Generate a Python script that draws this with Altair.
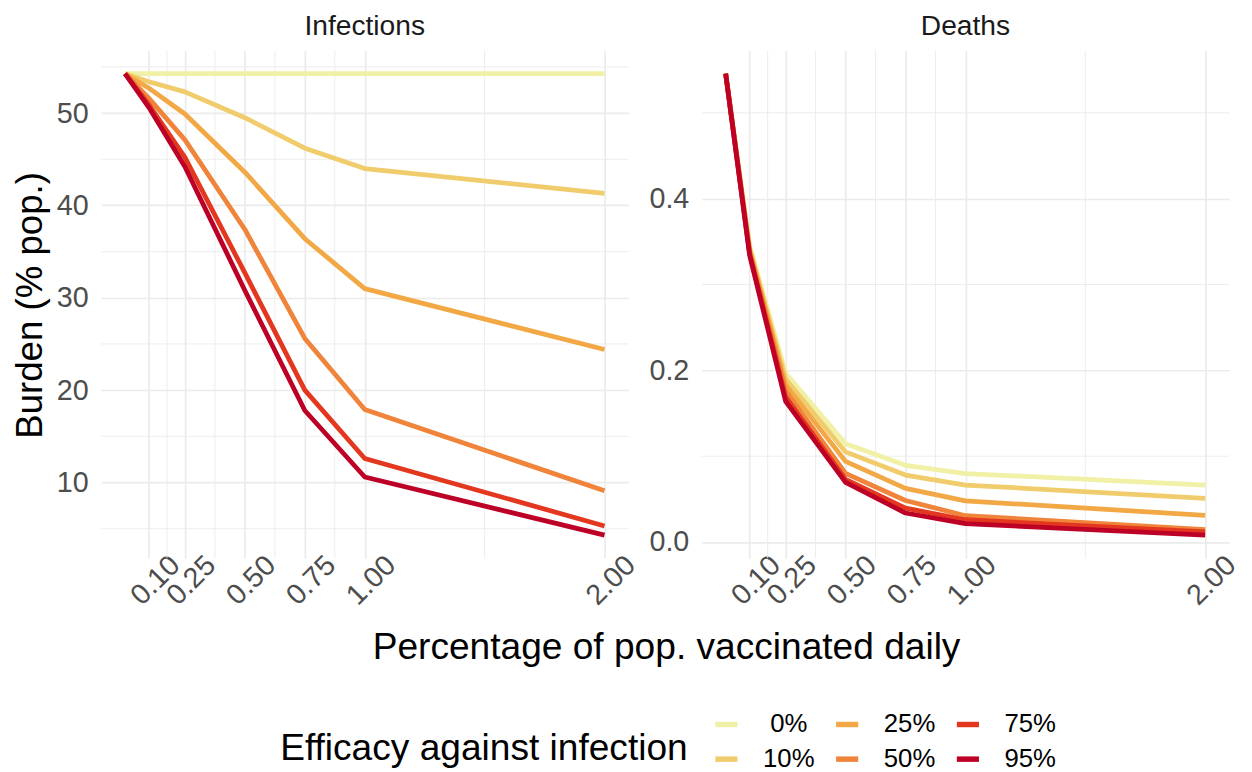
import altair as alt
import pandas as pd

# ---- data ----
x_pct = [0.0, 0.1, 0.25, 0.5, 0.75, 1.0, 2.0]
efficacy_levels = ["0%", "10%", "25%", "50%", "75%", "95%"]
line_colors = ["#f0f0a6", "#f1cc6c", "#f2a845", "#f0843a", "#e4371f", "#bd0026"]

inf_0 = [54.27, 54.27, 54.27, 54.27, 54.27, 54.27, 54.27]
inf_10 = [54.27, 53.4, 52.3, 49.5, 46.2, 44.0, 41.3]
inf_25 = [54.27, 52.7, 49.9, 43.6, 36.4, 31.0, 24.4]
inf_50 = [54.27, 51.6, 47.1, 37.4, 25.6, 17.9, 9.1]
inf_75 = [54.27, 50.9, 45.2, 32.7, 20.0, 12.6, 5.3]
inf_95 = [54.27, 50.6, 44.2, 30.8, 17.8, 10.6, 4.3]

death_0 = [0.5456, 0.345, 0.197, 0.1144, 0.0894, 0.0798, 0.0664]
death_10 = [0.5456, 0.342, 0.190, 0.105, 0.078, 0.0664, 0.051]
death_25 = [0.5456, 0.340, 0.183, 0.094, 0.0626, 0.048, 0.0311]
death_50 = [0.5456, 0.338, 0.176, 0.080, 0.0484, 0.0307, 0.0145]
death_75 = [0.5456, 0.336, 0.169, 0.073, 0.0395, 0.026, 0.0119]
death_95 = [0.5456, 0.334, 0.164, 0.0695, 0.0338, 0.0214, 0.008]

x_breaks = [0.1, 0.25, 0.5, 0.75, 1.0, 2.0]
x_minor = [0.175, 0.375, 0.625, 0.875, 1.5]
inf_breaks = [10, 20, 30, 40, 50]
inf_minor = [5, 15, 25, 35, 45, 55]
death_breaks = [0.0, 0.2, 0.4]
death_minor = [0.1, 0.3, 0.5]

# legend shows entries column-wise (3 columns, 2 rows)
legend_order = ["0%", "25%", "75%", "10%", "50%", "95%"]
color_of = dict(zip(efficacy_levels, line_colors))
legend_colors = [color_of[k] for k in legend_order]


def long_df(series):
    rows = []
    for lvl, ys in zip(efficacy_levels, series):
        for x, y in zip(x_pct, ys):
            rows.append({"pct": x, "burden": y, "eff": lvl})
    return pd.DataFrame(rows)


inf_df = long_df([inf_0, inf_10, inf_25, inf_50, inf_75, inf_95])
death_df = long_df([death_0, death_10, death_25, death_50, death_75, death_95])

GRID = "#ebebeb"
FONT = "Liberation Sans"

color_enc = alt.Color(
    "eff:N",
    scale=alt.Scale(domain=legend_order, range=legend_colors),
    legend=alt.Legend(
        title="Efficacy against infection",
        orient="none",
        legendX=181,
        legendY=667,
        direction="horizontal",
        columns=3,
        titleOrient="left",
        titleAnchor="middle",
        titleBaseline="line-top",
        titleLineHeight=16,
        titleFontSize=37.5,
        titleFontWeight="normal",
        titleColor="black",
        titlePadding=24,
        titleLimit=1000,
        labelFontSize=26,
        labelColor="black",
        labelAlign="center",
        labelOffset=49,
        symbolType="stroke",
        symbolSize=500,
        symbolStrokeWidth=5.5,
        columnPadding=9,
        rowPadding=8,
    ),
)


def panel(df, y_breaks, y_minor, y_fmt, strip, y_title, x_title):
    lo, hi = df["burden"].min(), df["burden"].max()
    pad = (hi - lo) * 0.05
    xs = alt.Scale(domain=[-0.1, 2.1], nice=False, zero=False)
    ys = alt.Scale(domain=[lo - pad, hi + pad], nice=False, zero=False)

    x_kw = dict(
        values=x_breaks, format=".2f", labelAngle=315, labelAlign="center",
        labelBaseline="middle", labelPadding=22, labelOffset=6,
        labelOverlap=False, labelBound=False, labelFlush=False,
        labelFontSize=29, labelColor="#4d4d4d", ticks=False, tickSize=0,
        domain=False, grid=True, gridColor=GRID, gridWidth=1.7,
    )
    if x_title:
        x_kw.update(title=x_title, titleX=571, titleY=101.5,
                    titleBaseline="alphabetic", titleFontSize=37.5,
                    titleFontWeight="normal", titleColor="black")
    else:
        x_kw.update(title=None)

    y_kw = dict(
        values=y_breaks, format=y_fmt, labelPadding=13, labelFontSize=29,
        labelColor="#4d4d4d", ticks=False, tickSize=0, domain=False,
        labelOverlap=False, labelBound=False, labelFlush=False,
        grid=True, gridColor=GRID, gridWidth=1.7,
    )
    if y_title:
        y_kw.update(title=y_title, titleAngle=270, titleX=-60, titleY=257,
                    titleAlign="center", titleBaseline="alphabetic",
                    titleFontSize=37, titleFontWeight="normal", titleColor="black")
    else:
        y_kw.update(title=None)

    x_axis = alt.Axis(**x_kw)
    y_axis = alt.Axis(**y_kw)

    vmin = alt.Chart(pd.DataFrame({"pct": x_minor})).mark_rule(
        color=GRID, strokeWidth=0.9
    ).encode(x=alt.X("pct:Q", scale=xs, axis=x_axis))
    hmin = alt.Chart(pd.DataFrame({"burden": y_minor})).mark_rule(
        color=GRID, strokeWidth=0.9
    ).encode(y=alt.Y("burden:Q", scale=ys, axis=y_axis))

    lines = alt.Chart(df).mark_line(strokeWidth=4.8, strokeJoin="round").encode(
        x=alt.X("pct:Q", scale=xs, axis=x_axis),
        y=alt.Y("burden:Q", scale=ys, axis=y_axis),
        color=color_enc,
    )
    return alt.layer(vmin, hmin, lines).properties(
        width=533,
        height=513,
        title=alt.TitleParams(strip, fontSize=28.5, color="#1a1a1a",
                              fontWeight="normal", anchor="middle",
                              baseline="alphabetic", offset=-13),
    )


left = panel(inf_df, inf_breaks, inf_minor, "d", "Infections",
             "Burden (% pop.)", "Percentage of pop. vaccinated daily")
right = panel(death_df, death_breaks, death_minor, ".1f", "Deaths", None, None)

chart = (
    alt.hconcat(left, right, spacing=74, bounds="flush")
    .properties(padding={"left": 4, "top": 0, "right": 2, "bottom": 0},
                background="white")
    .configure(font=FONT)
    .configure_view(stroke=None)
)

chart.save("out.html", embed_options={"renderer": "svg", "actions": False})
